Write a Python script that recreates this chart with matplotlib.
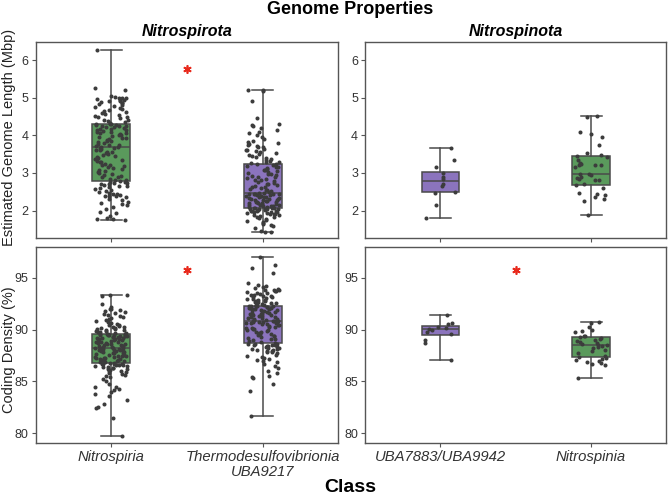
import numpy as np
import matplotlib
matplotlib.use("Agg")
import matplotlib.pyplot as plt

plt.rcParams["font.family"] = ["Liberation Sans", "DejaVu Sans"]

# ── Data ──
nitrospiria_len = [
    1.75, 1.77, 1.78, 1.80, 1.85, 1.93, 1.95, 2.05, 2.10, 2.15, 2.18, 2.20, 2.22, 2.28, 2.30, 2.35,
    2.38, 2.40, 2.40, 2.42, 2.45, 2.45, 2.48, 2.50, 2.52, 2.55, 2.58, 2.60, 2.62, 2.65, 2.66, 2.68,
    2.70, 2.71, 2.73, 2.74, 2.75, 2.76,
    2.78, 2.80, 2.82, 2.85, 2.88, 2.90, 2.92, 2.95, 2.97, 3.00, 3.02, 3.05, 3.08, 3.10, 3.12, 3.15,
    3.18, 3.20, 3.22, 3.25, 3.28, 3.30, 3.33, 3.35, 3.38, 3.40, 3.42, 3.45, 3.48, 3.50, 3.52, 3.55,
    3.57, 3.60, 3.62, 3.64, 3.66, 3.67,
    3.69, 3.70, 3.72, 3.74, 3.75, 3.78, 3.80, 3.82, 3.84, 3.86, 3.88, 3.90, 3.92, 3.94, 3.95, 3.97,
    4.00, 4.02, 4.03, 4.05, 4.07, 4.08, 4.10, 4.12, 4.13, 4.15, 4.17, 4.18, 4.20, 4.21, 4.22, 4.24,
    4.25, 4.26, 4.27, 4.28, 4.29, 4.29,
    4.31, 4.33, 4.35, 4.38, 4.40, 4.42, 4.45, 4.48, 4.50, 4.52, 4.55, 4.58, 4.60, 4.62, 4.65, 4.68,
    4.70, 4.72, 4.75, 4.78, 4.80, 4.82, 4.85, 4.87, 4.88, 4.90, 4.92, 4.93, 4.95, 4.97, 4.98, 5.00,
    5.00, 5.02, 5.05, 5.20, 5.25, 6.27,
]
thermo_len = [
    1.42, 1.43, 1.45, 1.55, 1.60, 1.62, 1.65, 1.68, 1.70, 1.72, 1.75, 1.78, 1.80, 1.82, 1.84, 1.85,
    1.87, 1.88, 1.90, 1.91, 1.92, 1.93, 1.94, 1.95, 1.96, 1.97, 1.98, 1.99, 2.00, 2.00, 2.01, 2.02,
    2.03, 2.04, 2.04, 2.05, 2.05, 2.06, 2.06, 2.07,
    2.08, 2.09, 2.10, 2.11, 2.12, 2.13, 2.14, 2.15, 2.16, 2.17, 2.18, 2.19, 2.20, 2.21, 2.22, 2.23,
    2.24, 2.25, 2.26, 2.27, 2.28, 2.29, 2.30, 2.31, 2.32, 2.33, 2.34, 2.35, 2.36, 2.37, 2.38, 2.39,
    2.40, 2.41, 2.42, 2.43, 2.44, 2.44, 2.45, 2.45,
    2.47, 2.48, 2.50, 2.52, 2.54, 2.56, 2.58, 2.60, 2.62, 2.64, 2.66, 2.68, 2.70, 2.72, 2.74, 2.76,
    2.78, 2.80, 2.82, 2.84, 2.86, 2.88, 2.90, 2.92, 2.94, 2.96, 2.98, 3.00, 3.02, 3.05, 3.07, 3.09,
    3.11, 3.13, 3.15, 3.17, 3.19, 3.21, 3.23, 3.24,
    3.26, 3.28, 3.30, 3.32, 3.35, 3.38, 3.40, 3.42, 3.45, 3.48, 3.50, 3.52, 3.55, 3.58, 3.60, 3.62,
    3.65, 3.68, 3.70, 3.72, 3.75, 3.78, 3.80, 3.82, 3.85, 3.90, 3.95, 4.00, 4.05, 4.10, 4.15, 4.20,
    4.25, 4.28, 4.30, 4.45, 4.92, 5.18, 5.20, 5.20,
]
uba_len = [1.80, 2.14, 2.46, 2.49, 2.66, 2.72, 2.84, 2.90, 3.00, 3.15, 3.35, 3.67]
nitrospinia_len = [
    1.88, 2.25, 2.32, 2.36, 2.42, 2.43, 2.47, 2.60, 2.68, 2.70, 2.80, 2.82, 2.84, 2.86, 2.88, 2.95,
    2.97, 2.97, 3.16, 3.20, 3.20, 3.22, 3.25, 3.26, 3.35, 3.43, 3.45, 3.47, 3.52, 3.74, 3.95, 4.04,
    4.10, 4.50, 4.52,
]

nitrospiria_cd = [
    79.7, 81.5, 82.4, 82.5, 82.8, 83.2, 83.6, 83.8, 84.0, 84.2, 84.3, 84.5, 84.5, 84.8, 85.0, 85.2,
    85.4, 85.5, 85.6, 85.7, 85.8, 85.9, 86.0, 86.0, 86.1, 86.2, 86.2, 86.3, 86.3, 86.4, 86.4, 86.5,
    86.5, 86.6, 86.6, 86.6, 86.7, 86.7, 86.7, 86.7,
    86.8, 86.8, 86.85, 86.9, 86.95, 87.0, 87.05, 87.1, 87.1, 87.15, 87.2, 87.25, 87.3, 87.3, 87.35,
    87.4, 87.45, 87.5, 87.5, 87.55, 87.6, 87.65, 87.7, 87.7, 87.75, 87.8, 87.85, 87.9, 87.9, 87.95,
    88.0, 88.0, 88.05, 88.1, 88.1, 88.15, 88.15, 88.2, 88.2, 88.2,
    88.25, 88.3, 88.35, 88.4, 88.4, 88.45, 88.5, 88.55, 88.6, 88.6, 88.65, 88.7, 88.75, 88.8, 88.8,
    88.85, 88.9, 88.95, 89.0, 89.0, 89.05, 89.1, 89.1, 89.15, 89.2, 89.2, 89.25, 89.3, 89.3, 89.35,
    89.4, 89.4, 89.45, 89.45, 89.5, 89.5, 89.5, 89.55, 89.55, 89.55,
    89.6, 89.65, 89.7, 89.75, 89.8, 89.85, 89.9, 89.95, 90.0, 90.05, 90.1, 90.15, 90.2, 90.25, 90.3,
    90.35, 90.4, 90.45, 90.5, 90.6, 90.7, 90.8, 90.9, 91.0, 91.1, 91.2, 91.3, 91.4, 91.5, 91.6,
    91.7, 91.8, 91.9, 92.0, 92.0, 92.2, 92.5, 93.2, 93.3, 93.3,
]
thermo_cd = [
    81.7, 84.1, 84.8, 85.3, 85.4, 85.5, 85.8, 86.0, 86.3, 86.5, 86.7, 86.9, 87.0, 87.1, 87.2, 87.3,
    87.4, 87.5, 87.6, 87.7, 87.8, 87.85, 87.9, 87.95, 88.0, 88.05, 88.1, 88.15, 88.2, 88.25, 88.3,
    88.35, 88.4, 88.45, 88.5, 88.5, 88.55, 88.6, 88.6, 88.65,
    88.7, 88.8, 88.9, 89.0, 89.05, 89.1, 89.2, 89.3, 89.35, 89.4, 89.5, 89.55, 89.6, 89.7, 89.75,
    89.8, 89.9, 89.95, 90.0, 90.05, 90.1, 90.15, 90.2, 90.25, 90.3, 90.35, 90.4, 90.45, 90.5, 90.55,
    90.6, 90.6, 90.65, 90.7, 90.7, 90.75, 90.75, 90.8, 90.8, 90.8,
    90.85, 90.9, 90.95, 91.0, 91.05, 91.1, 91.15, 91.2, 91.25, 91.3, 91.35, 91.4, 91.45, 91.5, 91.5,
    91.55, 91.6, 91.65, 91.7, 91.7, 91.75, 91.8, 91.85, 91.9, 91.9, 91.95, 92.0, 92.0, 92.05, 92.1,
    92.1, 92.15, 92.2, 92.2, 92.25, 92.25, 92.3, 92.3, 92.3, 92.3,
    92.35, 92.4, 92.45, 92.5, 92.55, 92.6, 92.65, 92.7, 92.75, 92.8, 92.85, 92.9, 92.95, 93.0, 93.05,
    93.1, 93.15, 93.2, 93.25, 93.3, 93.35, 93.4, 93.5, 93.5, 93.6, 93.7, 93.75, 93.8, 93.8, 93.85,
    93.9, 94.0, 94.1, 94.2, 94.3, 94.5, 95.5, 95.9, 96.2, 97.0,
]
uba_cd = [87.1, 88.7, 89.0, 89.6, 89.8, 90.0, 90.05, 90.2, 90.3, 90.5, 90.6, 91.4]
nitrospinia_cd = [
    85.3, 86.6, 86.7, 86.8, 86.9, 87.0, 87.1, 87.2, 87.3, 87.4, 87.5, 87.7, 87.9, 88.0, 88.2, 88.3,
    88.4, 88.5, 88.5, 88.6, 88.7, 88.8, 88.9, 89.0, 89.1, 89.2, 89.3, 89.4, 89.4, 89.8, 89.9, 90.0,
    90.3, 90.6, 90.7,
]

phyla = ["Nitrospirota", "Nitrospinota"]
classes = [["Nitrospiria", "Thermodesulfovibrionia\nUBA9217"],
           ["UBA7883/UBA9942", "Nitrospinia"]]
length_data = [[nitrospiria_len, thermo_len], [uba_len, nitrospinia_len]]
density_data = [[nitrospiria_cd, thermo_cd], [uba_cd, nitrospinia_cd]]
# significance stars per column -> y value
stars_len = {0: 5.76}
stars_cd = {0: 95.75, 1: 95.8}

GREEN = "#5a9a5c"
PURPLE = "#8b74bd"
box_colors = [[GREEN, PURPLE], [PURPLE, GREEN]]
EDGE = "#4a4a4a"
DOT = "#3c3c3c"


def jitter(n, seed, width=0.11):
    # deterministic hash-based horizontal offsets
    i = np.arange(n) + 1.0
    f = np.sin(i * 12.9898 + seed * 78.233) * 43758.5453
    f = f - np.floor(f)
    return (f - 0.5) * 2 * width


fig = plt.figure(figsize=(6.68, 4.96), dpi=100)
lefts = [0.0534, 0.5464]
widths = [0.453, 0.4513]
bottoms = [0.5208, 0.1062]
heights = [0.3952, 0.3964]

for row, (datasets, ylim, stars) in enumerate([(length_data, (1.28, 6.49), stars_len),
                                               (density_data, (79.03, 98.0), stars_cd)]):
    for col in range(2):
        ax = fig.add_axes([lefts[col], bottoms[row], widths[col], heights[row]])
        groups = datasets[col]
        bp = ax.boxplot(groups, positions=[0, 1], widths=0.25, whis=(0, 100),
                        patch_artist=True, showfliers=False,
                        boxprops=dict(edgecolor=EDGE, linewidth=1.1),
                        whiskerprops=dict(color=EDGE, linewidth=1.1),
                        capprops=dict(color=EDGE, linewidth=1.1),
                        medianprops=dict(color=EDGE, linewidth=1.1))
        for cap in bp["caps"]:
            mid = np.mean(cap.get_xdata())
            cap.set_xdata([mid - 0.07, mid + 0.07])
        for patch, c in zip(bp["boxes"], box_colors[col]):
            patch.set_facecolor(c)
        for k, vals in enumerate(groups):
            vals = np.asarray(vals)
            xs = k + jitter(len(vals), seed=row * 4 + col * 2 + k)
            ax.scatter(xs, vals, s=8.5, color=DOT, zorder=3, linewidths=0)
        if col in stars:
            ax.plot(0.5, stars[col], marker=(6, 2, 0), color="#e8291c",
                    markersize=6, mew=1.2, zorder=4)
        ax.set_xlim(-0.5, 1.5)
        ax.set_ylim(*ylim)
        ax.set_xticks([0, 1])
        if row == 0:
            ax.set_yticks([2, 3, 4, 5, 6])
            ax.set_xticklabels([])
            ax.set_title(phyla[col], fontsize=11.5, fontweight="bold", fontstyle="italic",
                         pad=4)
        else:
            ax.set_yticks([80, 85, 90, 95])
            ax.set_xticklabels(classes[col], fontstyle="italic", fontsize=10.7,
                               color="#222222", linespacing=1.05)
        for sp in ax.spines.values():
            sp.set_color("#555555")
            sp.set_linewidth(1.0)
        ax.tick_params(axis="y", labelsize=9)
        ax.tick_params(axis="both", direction="out", length=3, width=0.8,
                       color="#555555", labelcolor="#333333", pad=2)

fig.text(350 / 668, 1 - 9 / 496, "Genome Properties", ha="center", va="center",
         fontsize=13, fontweight="bold")
fig.text(9 / 668, 1 - 137 / 496, "Estimated Genome Length (Mbp)", rotation=90,
         ha="center", va="center", fontsize=10.5, color="#222222")
fig.text(9 / 668, 1 - 350 / 496, "Coding Density (%)", rotation=90,
         ha="center", va="center", fontsize=10.5, color="#222222")
fig.text(350 / 668, 1 - 487 / 496, "Class", ha="center", va="center",
         fontsize=14, fontweight="bold")

fig.savefig("out.png", dpi=100)
